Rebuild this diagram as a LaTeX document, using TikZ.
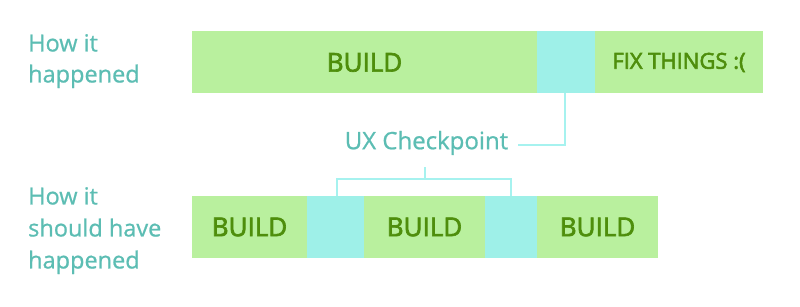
\documentclass[tikz,border=0pt]{standalone}
\usepackage{fontspec}
\setmainfont{Open Sans}
\newfontfamily\semib{Open Sans}[FakeBold=2.6]
\newfontfamily\medf{Open Sans}[FakeBold=0.8]
\definecolor{grn}{HTML}{B9F09E}
\definecolor{cyn}{HTML}{9EF0E8}
\definecolor{dgrn}{HTML}{4E8E0C}
\definecolor{teal}{HTML}{5CBDB3}
\definecolor{lcyn}{HTML}{A6F2EF}
\begin{document}
\begin{tikzpicture}[x=1pt,y=-1pt,
  seg/.style={draw=none,inner sep=0pt,outer sep=0pt,minimum height=62pt},
  gseg/.style={seg,fill=grn,text=dgrn,font=\fontsize{26}{30}\semib},
  cseg/.style={seg,fill=cyn},
  lbl/.style={text=teal,align=left,anchor=north west,inner sep=0pt},
  conn/.style={draw=lcyn,line width=2pt}]
\useasboundingbox (0,0) rectangle (800,307);
% top bar
\node[gseg,minimum width=345pt] (b1) at (364.5,62.5) {BUILD};
\node[cseg,minimum width=58pt] (c1) at (566,62) {};
\node[gseg,minimum width=168pt,font=\fontsize{22}{26}\semib] (f1) at (679,62.5) {FIX THINGS :(};
% bottom bar
\node[gseg,minimum width=115pt] (b2) at (249.5,227) {BUILD};
\node[cseg,minimum width=57pt] (c2) at (335.5,227) {};
\node[gseg,minimum width=121pt] (b3) at (424.5,227) {BUILD};
\node[cseg,minimum width=52pt] (c3) at (511,227) {};
\node[gseg,minimum width=121pt] (b4) at (597.5,227) {BUILD};
% labels
\node[lbl,font=\fontsize{23.5}{31}\medf] (l1) at (28,34) {How it\\happened};
\node[lbl,font=\fontsize{23.5}{32}\medf] (l2) at (28,187) {How it\\should have\\happened};
% checkpoint
\node[text=teal,font=\fontsize{24}{28}\medf,inner sep=2pt] (ux) at (426.5,143) {UX Checkpoint};
\coordinate (k1) at (565,145);
\coordinate (k2) at (518,145);
\draw[conn] (c1.south -| k1) -- (k1) -- (k2);
\coordinate (m) at (425,179);
\draw[conn] (425,167) -- (m);
\draw[conn] (c2.north -| 337,0) |- (m) -| (c3.north -| 511,0);
\end{tikzpicture}
\end{document}
